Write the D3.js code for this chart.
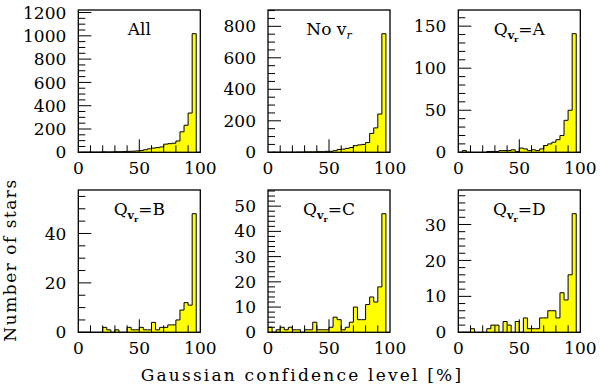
<!DOCTYPE html>
<html>
<head>
<meta charset="utf-8">
<script src="https://cdn.jsdelivr.net/npm/d3@7"></script>
<style>
  body { margin: 0; background: #fff; }
  svg { display: block; }
  text { font-family: "DejaVu Serif", serif; fill: #000; }
</style>
</head>
<body>
<script>
let w = 600;
let h = 386;

// 30 bins of confidence level, 0-100 %
let binCount = 30;
let xTickLabels = [0, 50, 100];

let allStars   = [0, 1, 1, 2, 2, 2, 4, 3, 4, 5, 5, 6, 8, 9, 12, 15, 22, 30, 36, 40, 46, 70, 74, 78, 97, 176, 232, 337, 1018, 0];
let noVr       = [0, 1, 0, 1, 1, 1, 1, 2, 2, 3, 3, 3, 4, 4, 6, 6, 10, 18, 20, 25, 30, 42, 47, 50, 62, 120, 155, 243, 753, 0];
let qualityA   = [0, 2, 0, 0, 0, 0, 0, 1, 1, 1, 2, 2, 2, 3, 1, 5, 4, 2, 3, 2, 4, 8, 10, 12, 15, 20, 38, 50, 141, 0];
let qualityB   = [0, 0, 0, 0, 0, 0, 2, 1, 0, 1, 0, 0, 2, 1, 1, 2, 1, 1, 4, 1, 2, 2, 3, 3, 5, 9, 12, 11, 48, 0];
let qualityC   = [2, 0, 1, 2, 1, 2, 1, 1, 0, 1, 1, 4, 1, 1, 1, 2, 6, 5, 1, 2, 4, 10, 5, 5, 11, 14, 12, 18, 47, 0];
let qualityD   = [0, 0, 0, 1, 0, 0, 0, 1, 2, 2, 0, 3, 2, 0, 3, 0, 4, 1, 1, 1, 4, 4, 6, 6, 4, 11, 9, 16, 33, 0];

let panels = [
  {label: "All",  counts: allStars, major: 200, minor: 50},
  {label: "noVr", counts: noVr,     major: 200, minor: 50},
  {label: "A",    counts: qualityA, major: 50,  minor: 10},
  {label: "B",    counts: qualityB, major: 20,  minor: 5},
  {label: "C",    counts: qualityC, major: 10,  minor: 2},
  {label: "D",    counts: qualityD, major: 10,  minor: 2}
];

let lefts = [78.3, 268, 458.3];
let tops = [10, 190];
let pw = 122;
let ph = 142.3;
let majorLen = 13;
let minorLen = 7;

let svg = d3.select("body")
  .append("svg")
  .attr("width", w)
  .attr("height", h);

panels.forEach(function(p, i) {
  let left = lefts[i % 3];
  let top = tops[Math.floor(i / 3)];
  let yTop = d3.max(p.counts) * 1.2;

  let xScale = d3.scaleLinear().domain([0, 100]).range([left, left + pw]);
  let yScale = d3.scaleLinear().domain([0, yTop]).range([top + ph, top]);

  let binW = 100 / binCount;
  let pts = p.counts.map((c, k) => ({x: k * binW, y: c}));
  pts.push({x: 100, y: p.counts[binCount - 1]});

  let g = svg.append("g").attr("class", "panel");

  g.append("path")
    .datum(pts)
    .attr("fill", "#ffff00")
    .attr("d", d3.area()
      .curve(d3.curveStepAfter)
      .x(d => xScale(d.x))
      .y0(yScale(0))
      .y1(d => yScale(d.y)));

  g.append("path")
    .datum(pts)
    .attr("fill", "none")
    .attr("stroke", "#000")
    .attr("stroke-width", 1)
    .attr("d", d3.line()
      .curve(d3.curveStepAfter)
      .x(d => xScale(d.x))
      .y(d => yScale(d.y)));

  // y ticks, drawn inward from the left edge
  let yMinor = d3.range(0, yTop, p.minor);
  g.selectAll(".ytick")
    .data(yMinor)
    .enter()
    .append("line")
    .attr("x1", left)
    .attr("x2", d => left + (d % p.major === 0 ? majorLen : minorLen))
    .attr("y1", d => yScale(d))
    .attr("y2", d => yScale(d))
    .attr("stroke", "#000")
    .attr("stroke-width", 1);

  g.selectAll(".ylabel")
    .data(yMinor.filter(d => d % p.major === 0))
    .enter()
    .append("text")
    .attr("x", left - 12)
    .attr("y", d => yScale(d))
    .attr("dy", "0.36em")
    .attr("text-anchor", "end")
    .style("font-size", "17px")
    .text(d => d);

  // x ticks, drawn up from the bottom edge
  g.selectAll(".xtick")
    .data(d3.range(10, 100, 10))
    .enter()
    .append("line")
    .attr("x1", d => xScale(d))
    .attr("x2", d => xScale(d))
    .attr("y1", yScale(0))
    .attr("y2", d => yScale(0) - (d === 50 ? majorLen : minorLen))
    .attr("stroke", "#000")
    .attr("stroke-width", 1);

  g.selectAll(".xlabel")
    .data(xTickLabels)
    .enter()
    .append("text")
    .attr("x", d => xScale(d))
    .attr("y", top + ph + 22)
    .attr("text-anchor", "middle")
    .style("font-size", "17px")
    .text(d => d);

  g.append("rect")
    .attr("x", left)
    .attr("y", top)
    .attr("width", pw)
    .attr("height", ph)
    .attr("fill", "none")
    .attr("stroke", "#000")
    .attr("stroke-width", 1.3);

  let lab = g.append("text")
    .attr("x", left + pw / 2)
    .attr("y", top + 25)
    .attr("text-anchor", "middle")
    .style("font-size", "17px");
  if (p.label === "All") {
    lab.text("All");
  } else if (p.label === "noVr") {
    lab.append("tspan").text("No  v");
    lab.append("tspan").attr("dy", 4).style("font-size", "11px").style("font-style", "italic").text("r");
  } else {
    lab.append("tspan").text("Q");
    lab.append("tspan").attr("dy", 4).style("font-size", "11px").style("font-weight", "bold").text("v");
    lab.append("tspan").attr("dy", 3).style("font-size", "8px").style("font-weight", "bold").text("r");
    lab.append("tspan").attr("dy", -7).text("=" + p.label);
  }
});

svg.append("text")
  .attr("x", 302)
  .attr("y", 381)
  .attr("text-anchor", "middle")
  .style("font-size", "17px")
  .style("letter-spacing", "2.2px")
  .text("Gaussian confidence level [%]");

svg.append("text")
  .attr("transform", "translate(16,260) rotate(-90)")
  .attr("text-anchor", "middle")
  .style("font-size", "17px")
  .style("letter-spacing", "1.5px")
  .text("Number of stars");
</script>
</body>
</html>
